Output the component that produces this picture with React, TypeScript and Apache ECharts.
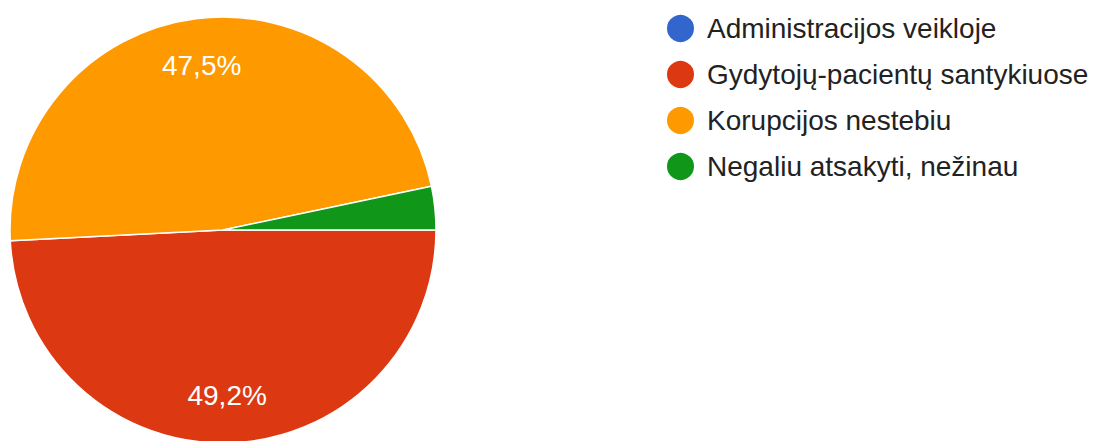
import React, { useEffect, useRef } from "react";
import * as echarts from "echarts";

const categories = [
  "Administracijos veikloje",
  "Gydytojų-pacientų santykiuose",
  "Korupcijos nestebiu",
  "Negaliu atsakyti, nežinau",
];
const values = [0, 49.2, 47.5, 3.3];
const colors = ["#3366cc", "#dc3912", "#ff9900", "#109618"];

export default function App() {
  const ref = useRef<HTMLDivElement>(null);
  useEffect(() => {
    if (!ref.current) return;
    const chart = echarts.init(ref.current, undefined, { renderer: "svg" });
    const data = categories.map((name, i) => ({
      name,
      value: values[i],
      itemStyle: { color: colors[i] },
    }));
    chart.setOption({
      animation: false,
      backgroundColor: "#ffffff",
      legend: {
        orient: "vertical",
        left: 660,
        top: 8,
        padding: 5,
        icon: "circle",
        itemWidth: 29,
        itemHeight: 29,
        itemGap: 15,
        selectedMode: false,
        data: categories,
        textStyle: {
          fontFamily: "Liberation Sans, Arial, sans-serif",
          fontSize: 28,
          lineHeight: 29,
          color: "#222222",
          padding: [0, 0, 0, 7],
        },
      },
      series: [
        {
          type: "pie",
          center: [223, 230],
          radius: [0, 213],
          startAngle: 0,
          clockwise: true,
          silent: true,
          label: { show: false },
          labelLine: { show: false },
          itemStyle: { borderColor: "#ffffff", borderWidth: 1.5 },
          data,
        },
        {
          type: "pie",
          center: [223, 230],
          radius: [113, 213],
          startAngle: 0,
          clockwise: true,
          silent: true,
          itemStyle: { color: "rgba(0,0,0,0)", borderWidth: 0 },
          labelLine: { show: false },
          label: {
            show: true,
            position: "inside",
            color: "#ffffff",
            fontSize: 28,
            fontFamily: "Liberation Sans, Arial, sans-serif",
            formatter: (p: any) =>
              p.value >= 5 ? p.value.toFixed(1).replace(".", ",") + "%" : "",
          },
          data: categories.map((name, i) => ({ name, value: values[i] })),
        },
      ],
    });
    return () => chart.dispose();
  }, []);
  return (
    <div
      ref={ref}
      style={{ position: "fixed", left: 0, top: 0, width: 1097, height: 441 }}
    />
  );
}
